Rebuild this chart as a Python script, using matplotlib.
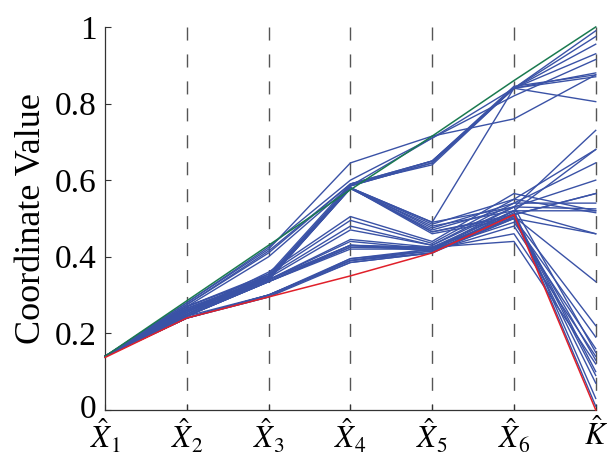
import matplotlib
matplotlib.use("Agg")
import matplotlib.pyplot as plt
import matplotlib.transforms as mtransforms
import numpy as np

plt.rcParams['font.family'] = ['Liberation Serif', 'DejaVu Serif']
plt.rcParams['mathtext.fontset'] = 'stix'

axis_labels = [r'$\hat{X}_1$', r'$\hat{X}_2$', r'$\hat{X}_3$', r'$\hat{X}_4$',
               r'$\hat{X}_5$', r'$\hat{X}_6$', r'$\hat{K}$']

# best and worst profiles
green_line = [0.14, 0.285, 0.43, 0.575, 0.715, 0.86, 1.0]
red_line = [0.137, 0.24, 0.295, 0.35, 0.41, 0.51, 0.0]

# remaining profiles, one row per sample
blue_lines = [
    [0.14, 0.28, 0.42, 0.645, 0.715, 0.76, 0.875],
    [0.14, 0.28, 0.425, 0.60, 0.71, 0.84, 0.99],
    [0.14, 0.275, 0.41, 0.59, 0.65, 0.84, 0.975],
    [0.14, 0.27, 0.40, 0.585, 0.645, 0.84, 0.955],
    [0.14, 0.275, 0.415, 0.59, 0.64, 0.84, 0.93],
    [0.14, 0.27, 0.35, 0.585, 0.71, 0.82, 0.915],
    [0.14, 0.265, 0.345, 0.58, 0.49, 0.84, 0.88],
    [0.14, 0.27, 0.35, 0.585, 0.65, 0.84, 0.87],
    [0.14, 0.265, 0.345, 0.585, 0.645, 0.84, 0.805],
    [0.14, 0.27, 0.355, 0.59, 0.65, 0.845, 0.875],
    [0.14, 0.265, 0.345, 0.58, 0.49, 0.53, 0.73],
    [0.14, 0.26, 0.34, 0.58, 0.485, 0.55, 0.68],
    [0.14, 0.26, 0.34, 0.578, 0.48, 0.52, 0.68],
    [0.14, 0.26, 0.345, 0.58, 0.475, 0.54, 0.645],
    [0.14, 0.26, 0.34, 0.578, 0.47, 0.53, 0.60],
    [0.14, 0.255, 0.345, 0.58, 0.465, 0.51, 0.565],
    [0.14, 0.26, 0.345, 0.58, 0.46, 0.50, 0.46],
    [0.14, 0.26, 0.34, 0.58, 0.465, 0.505, 0.335],
    [0.14, 0.255, 0.36, 0.505, 0.44, 0.565, 0.52],
    [0.14, 0.25, 0.355, 0.495, 0.435, 0.55, 0.515],
    [0.14, 0.255, 0.35, 0.48, 0.43, 0.54, 0.54],
    [0.14, 0.25, 0.345, 0.47, 0.43, 0.53, 0.525],
    [0.14, 0.25, 0.34, 0.445, 0.425, 0.52, 0.52],
    [0.14, 0.25, 0.34, 0.44, 0.42, 0.51, 0.565],
    [0.14, 0.245, 0.335, 0.43, 0.42, 0.52, 0.46],
    [0.14, 0.245, 0.335, 0.425, 0.425, 0.50, 0.22],
    [0.14, 0.245, 0.335, 0.42, 0.42, 0.49, 0.19],
    [0.14, 0.25, 0.34, 0.43, 0.415, 0.48, 0.16],
    [0.14, 0.245, 0.335, 0.425, 0.42, 0.46, 0.14],
    [0.14, 0.245, 0.34, 0.43, 0.425, 0.44, 0.12],
    [0.14, 0.245, 0.30, 0.395, 0.42, 0.51, 0.10],
    [0.14, 0.24, 0.30, 0.39, 0.415, 0.505, 0.09],
    [0.14, 0.24, 0.30, 0.39, 0.41, 0.50, 0.07],
    [0.14, 0.24, 0.295, 0.385, 0.41, 0.52, 0.03],
    [0.14, 0.24, 0.30, 0.385, 0.41, 0.515, 0.01],
    [0.14, 0.24, 0.30, 0.39, 0.42, 0.53, 0.15],
    [0.14, 0.24, 0.295, 0.395, 0.415, 0.50, 0.13],
]

x = np.arange(len(axis_labels))

fig = plt.figure(figsize=(6.11, 4.57), dpi=100)
ax = fig.add_axes([0.172, 0.103, 0.803, 0.838])

# dashed vertical axes
for xi in x[1:]:
    ax.plot([xi, xi], [1, 0], color='#555555', linewidth=1.0,
            dashes=(9.4, 10), zorder=1, clip_on=False)

for row in blue_lines:
    ax.plot(x, row, color='#3a52a6', linewidth=1.0, zorder=2, clip_on=False)
ax.plot(x, green_line, color='#1a7a50', linewidth=1.1, zorder=3, clip_on=False)
ax.plot(x, red_line, color='#e0202a', linewidth=1.1, zorder=3, clip_on=False)

ax.set_xlim(0, 6)
ax.set_ylim(0, 1)
ax.set_xticks(x)
ax.set_xticklabels(axis_labels, fontsize=22)
ax.set_yticks([0, 0.2, 0.4, 0.6, 0.8, 1])
ax.set_yticklabels(['0', '0.2', '0.4', '0.6', '0.8', '1'], fontsize=24)
ax.tick_params(direction='in', length=4, width=0.8, color='#333333')
ax.tick_params(axis='x', pad=6)
ax.tick_params(axis='y', pad=6)
ax.spines['top'].set_visible(False)
ax.spines['right'].set_visible(False)
for s in ('left', 'bottom'):
    ax.spines[s].set_color('#333333')
    ax.spines[s].set_linewidth(0.9)
ax.set_ylabel('Coordinate Value', fontsize=26, labelpad=5)

# lift the "0" label a little so it clears the first axis name
zero_label = ax.get_yticklabels()[0]
zero_label.set_transform(zero_label.get_transform() +
                         mtransforms.ScaledTranslation(0, 3 / 72, fig.dpi_scale_trans))

fig.savefig('out.png', dpi=100)
